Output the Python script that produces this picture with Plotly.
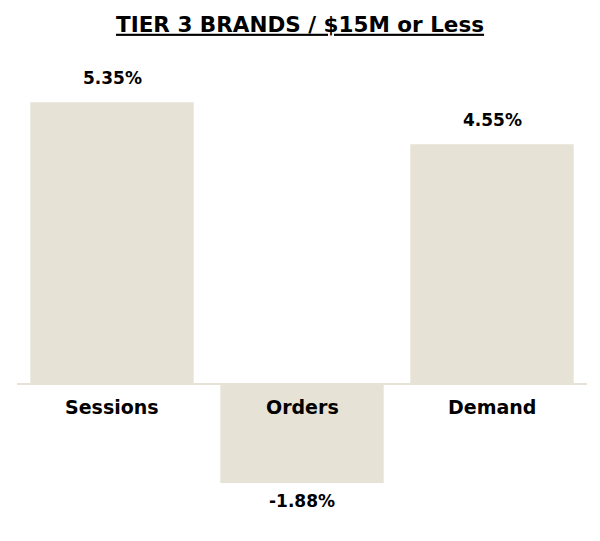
import plotly.graph_objects as go

# Data
categories = ["Sessions", "Orders", "Demand"]
values = [5.35, -1.88, 4.55]
value_labels = ["5.35%", "-1.88%", "4.55%"]

BAR_COLOR = "#E6E3D6"
FONT = "DejaVu Sans, Liberation Sans, sans-serif"

fig = go.Figure()

fig.add_trace(
    go.Bar(
        x=categories,
        y=values,
        marker_color=BAR_COLOR,
        marker_line_width=0,
        hoverinfo="skip",
    )
)

# Value labels above positive bars / below negative bars
for cat, val, lab in zip(categories, values, value_labels):
    fig.add_annotation(
        x=cat,
        y=val,
        text=f"<b>{lab}</b>",
        showarrow=False,
        yanchor="bottom" if val >= 0 else "top",
        yshift=12 if val >= 0 else -6,
        font={"family": FONT, "size": 17, "color": "black"},
    )

# Category labels sit just under the zero line
for cat in categories:
    fig.add_annotation(
        x=cat,
        y=0,
        text=f"<b>{cat}</b>",
        showarrow=False,
        yanchor="top",
        yshift=-10,
        font={"family": FONT, "size": 19, "color": "black"},
    )

# Zero line
fig.add_hline(y=0, line_width=2, line_color=BAR_COLOR)

fig.update_layout(
    width=600,
    height=541,
    title={
        "text": "<b>TIER 3 BRANDS / $15M or Less</b>",
        "x": 0.4867,
        "xanchor": "center",
        "y": 0.97,
        "yanchor": "middle",
        "font": {"family": FONT, "size": 21.5, "color": "black", "lineposition": "under"},
    },
    margin={"l": 9, "r": 21, "t": 52, "b": 29},
    bargap=0.14,
    showlegend=False,
    plot_bgcolor="white",
    paper_bgcolor="white",
)

fig.update_xaxes(visible=False)
fig.update_yaxes(visible=False, range=[-2.58, 6.15])

fig.write_html("out.html")
